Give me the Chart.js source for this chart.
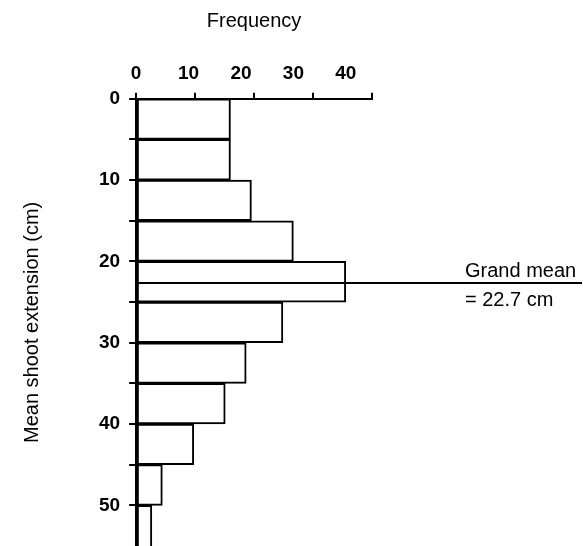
<!DOCTYPE html>
<html>
<head>
<meta charset="utf-8">
<title>Mean shoot extension</title>
<script src="https://cdn.jsdelivr.net/npm/chart.js@4/dist/chart.umd.min.js"></script>
<style>
  html, body { margin: 0; padding: 0; background: #fff; }
  #wrap { width: 583px; height: 546px; }
</style>
</head>
<body>
<div id="wrap"><canvas id="chart"></canvas></div>
<script>
// class intervals (cm) and how many shoots fall in each
const bins = ["0-5", "5-10", "10-15", "15-20", "20-25", "25-30", "30-35", "35-40", "40-45", "45-50", "50-55"];
const frequency = [18, 18, 22, 30, 40, 28, 21, 17, 11, 5, 3];
const grandMean = 22.7;
const freqLabelTicks = [0, 10, 20, 30, 40];
const freqMarkTicks = [0, 11.25, 22.5, 33.75, 45];

const FONT = "'Liberation Sans', Arial, Helvetica, sans-serif";

// horizontal reference line for the grand mean, with its note on the right
const meanLine = {
  id: "meanLine",
  afterDatasetsDraw(chart) {
    const { ctx, chartArea } = chart;
    const y = Math.round(chart.scales.yTicks.getPixelForValue(grandMean));
    ctx.save();
    ctx.strokeStyle = "#000";
    ctx.lineWidth = 2;
    ctx.beginPath();
    ctx.moveTo(chartArea.left, y);
    ctx.lineTo(chart.width - 1, y);
    ctx.stroke();
    ctx.fillStyle = "#000";
    ctx.font = "20px " + FONT;
    ctx.textAlign = "left";
    ctx.textBaseline = "alphabetic";
    ctx.fillText("Grand mean", chart.width - 118, y - 6);
    ctx.fillText("= " + grandMean + " cm", chart.width - 118, y + 23);
    ctx.restore();
  }
};

new Chart(document.getElementById("chart"), {
  type: "bar",
  data: {
    labels: bins,
    datasets: [{
      data: frequency,
      backgroundColor: "#fff",
      borderColor: "#000",
      borderWidth: 2,
      // last class runs off the bottom of the plot, so leave it open
      borderSkipped: (ctx) => (ctx.dataIndex === frequency.length - 1 ? "bottom" : false),
      barPercentage: 1,
      categoryPercentage: 1,
      xAxisID: "x",
      yAxisID: "y"
    }]
  },
  options: {
    indexAxis: "y",
    responsive: true,
    maintainAspectRatio: false,
    animation: false,
    layout: { padding: { left: 20, right: 211, top: 9, bottom: 0 } },
    plugins: { legend: { display: false }, tooltip: { enabled: false } },
    scales: {
      x: {
        type: "linear",
        position: "top",
        min: 0,
        max: 45,
        weight: 0,
        afterBuildTicks: (axis) => { axis.ticks = freqMarkTicks.map(v => ({ value: v })); },
        ticks: { display: false },
        grid: { drawOnChartArea: false, drawTicks: true, tickLength: 6, color: "#000", lineWidth: 2 },
        border: { display: true, color: "#000", width: 2 }
      },
      x2: {
        type: "linear",
        position: "top",
        min: 0,
        max: 45,
        weight: 1,
        afterBuildTicks: (axis) => { axis.ticks = freqLabelTicks.map(v => ({ value: v })); },
        ticks: { color: "#000", padding: 0, maxRotation: 0, font: { family: FONT, size: 19, weight: "bold" } },
        grid: { display: false },
        border: { display: false },
        title: { display: true, text: "Frequency", color: "#000", padding: { top: 0, bottom: 29 }, font: { family: FONT, size: 20 } }
      },
      y: {
        type: "category",
        display: false,
        offset: true
      },
      yTicks: {
        type: "linear",
        position: "left",
        reverse: true,
        offset: false,
        min: 0,
        max: 55,
        // the axis runs right to the bottom edge, so no room is kept for end labels
        afterFit: (axis) => { axis.paddingTop = 0; axis.paddingBottom = 0; },
        ticks: {
          stepSize: 5,
          color: "#000",
          padding: 9,
          font: { family: FONT, size: 19, weight: "bold" },
          callback: (v) => (v % 10 === 0 ? v : "")
        },
        grid: {
          offset: false,
          drawOnChartArea: false,
          drawTicks: true,
          tickLength: 7,
          color: (ctx) => (ctx.tick && ctx.tick.value === 55 ? "rgba(0,0,0,0)" : "#000"),
          lineWidth: 2
        },
        border: { display: true, color: "#000", width: 2 },
        title: { display: true, text: "Mean shoot extension (cm)", color: "#000", padding: { top: 0, bottom: 46 }, font: { family: FONT, size: 20 } }
      }
    }
  },
  plugins: [meanLine]
});
</script>
</body>
</html>
